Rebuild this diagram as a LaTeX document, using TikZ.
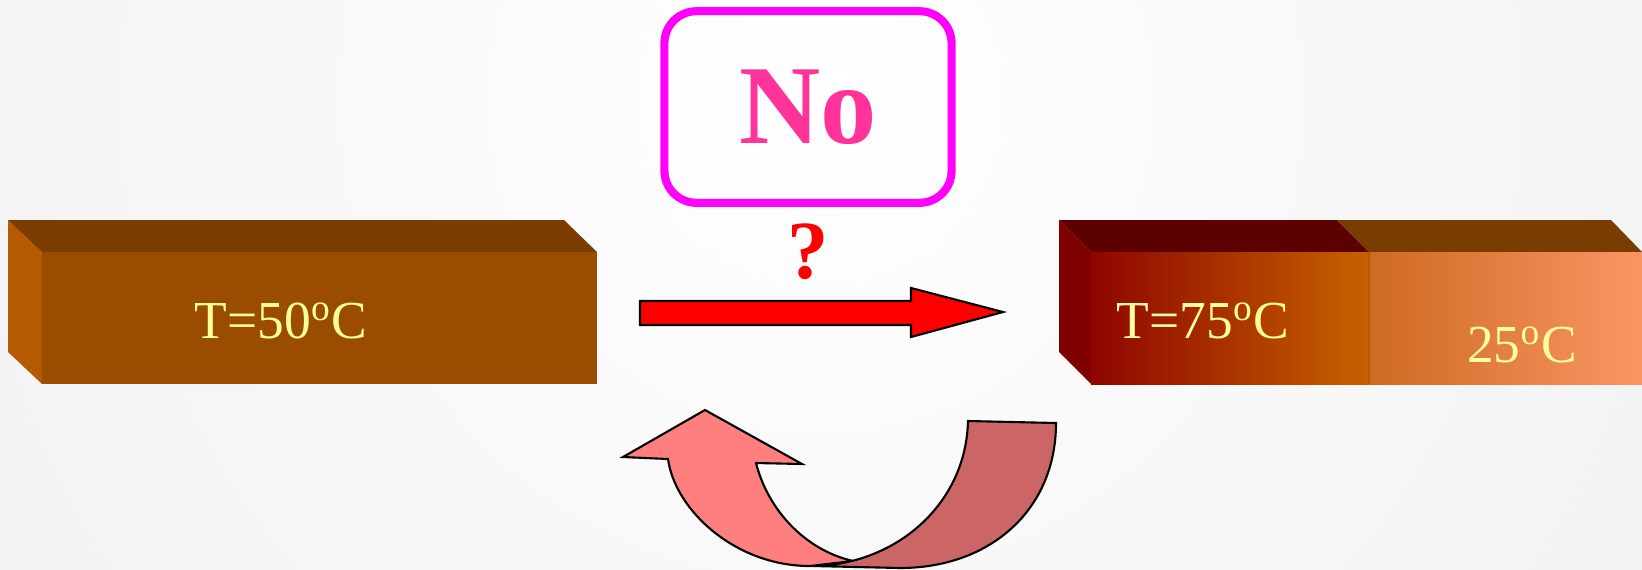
\documentclass[tikz,border=0pt]{standalone}
\usepackage{fontspec}
\setmainfont{Liberation Serif}
\definecolor{barfront}{HTML}{9A4D00}
\definecolor{bartop}{HTML}{7A3C00}
\definecolor{barside}{HTML}{B55A00}
\definecolor{hotside}{HTML}{800000}
\definecolor{hottop}{HTML}{5C0000}
\definecolor{hotleft}{HTML}{8E0500}
\definecolor{hotright}{HTML}{C66200}
\definecolor{warmleft}{HTML}{CD6A22}
\definecolor{warmright}{HTML}{FA9664}
\definecolor{tempyellow}{HTML}{FFFF99}
\definecolor{boxmagenta}{HTML}{FF00FF}
\definecolor{answerpink}{HTML}{FF3399}
\definecolor{backpink}{HTML}{FF7F7F}
\definecolor{backred}{HTML}{CC6666}
\begin{document}
\begin{tikzpicture}[x=0.01cm,y=-0.01cm,
temp/.style={text=tempyellow,inner sep=0pt,font=\fontsize{15.2}{18}\selectfont},
answer/.style={draw=boxmagenta,line width=2.3pt,rounded corners=0.32cm,
  minimum width=2.87cm,minimum height=1.915cm,text=answerpink,
  font=\fontsize{32}{36}\selectfont\bfseries},
question/.style={text=red,inner sep=0pt,font=\fontsize{23.5}{26}\selectfont\bfseries},
outline/.style={draw=black,line width=0.6pt,line join=miter},]
\useasboundingbox (0,0) rectangle (1642,569);
\begin{scope}
\clip (0,0) rectangle (1642,569);
\shade[inner color=white,outer color=black!9] (820,100) circle[radius=1700];
\end{scope}

\fill[barside] (8,220) -- (42,252) -- (42,384) -- (8,352) -- cycle;
\fill[bartop] (8,220) -- (564,220) -- (597,252) -- (42,252) -- cycle;
\fill[barfront] (42,252) rectangle (597,384);
\node[temp] (cold) at (281,321) {T=50\textsuperscript{o}C};

\fill[hotside] (1059,220) -- (1091,252) -- (1091,384) -- (1059,352) -- cycle;
\fill[hottop] (1059,220) -- (1337,220) -- (1369,252) -- (1091,252) -- cycle;
\fill[bartop] (1337,220) -- (1611,220) -- (1642,252) -- (1369,252) -- cycle;
\shade[left color=hotleft,right color=hotright] (1091,252) rectangle (1369,384);
\shade[left color=warmleft,right color=warmright] (1369,252) rectangle (1642,384);
\draw[barside,line width=0.5pt] (1369,252) -- (1369,384);
\node[temp] (hot) at (1203,321) {T=75\textsuperscript{o}C};
\node[temp] (warm) at (1522,345) {25\textsuperscript{o}C};

\node[answer] (no) at (808,107) {No};
\node[question] (ask) at (808,252) {?};

\filldraw[fill=red,outline] (640,301) -- (911,301) -- (911,288) -- (1003,312)
  -- (911,337) -- (911,325) -- (640,325) -- cycle;

\filldraw[fill=backpink,outline] (705,410) -- (802,464) -- (756,463)
  .. controls (768,510) and (805,550) .. (853,561) -- (810,566)
  .. controls (735,566) and (675,510) .. (668,459) -- (623,457) -- cycle;
\filldraw[fill=backred,outline] (968,421) -- (1056,423)
  .. controls (1056,510) and (990,568) .. (900,568) -- (813,566)
  .. controls (895,565) and (966,505) .. (968,421) -- cycle;
\end{tikzpicture}
\end{document}
